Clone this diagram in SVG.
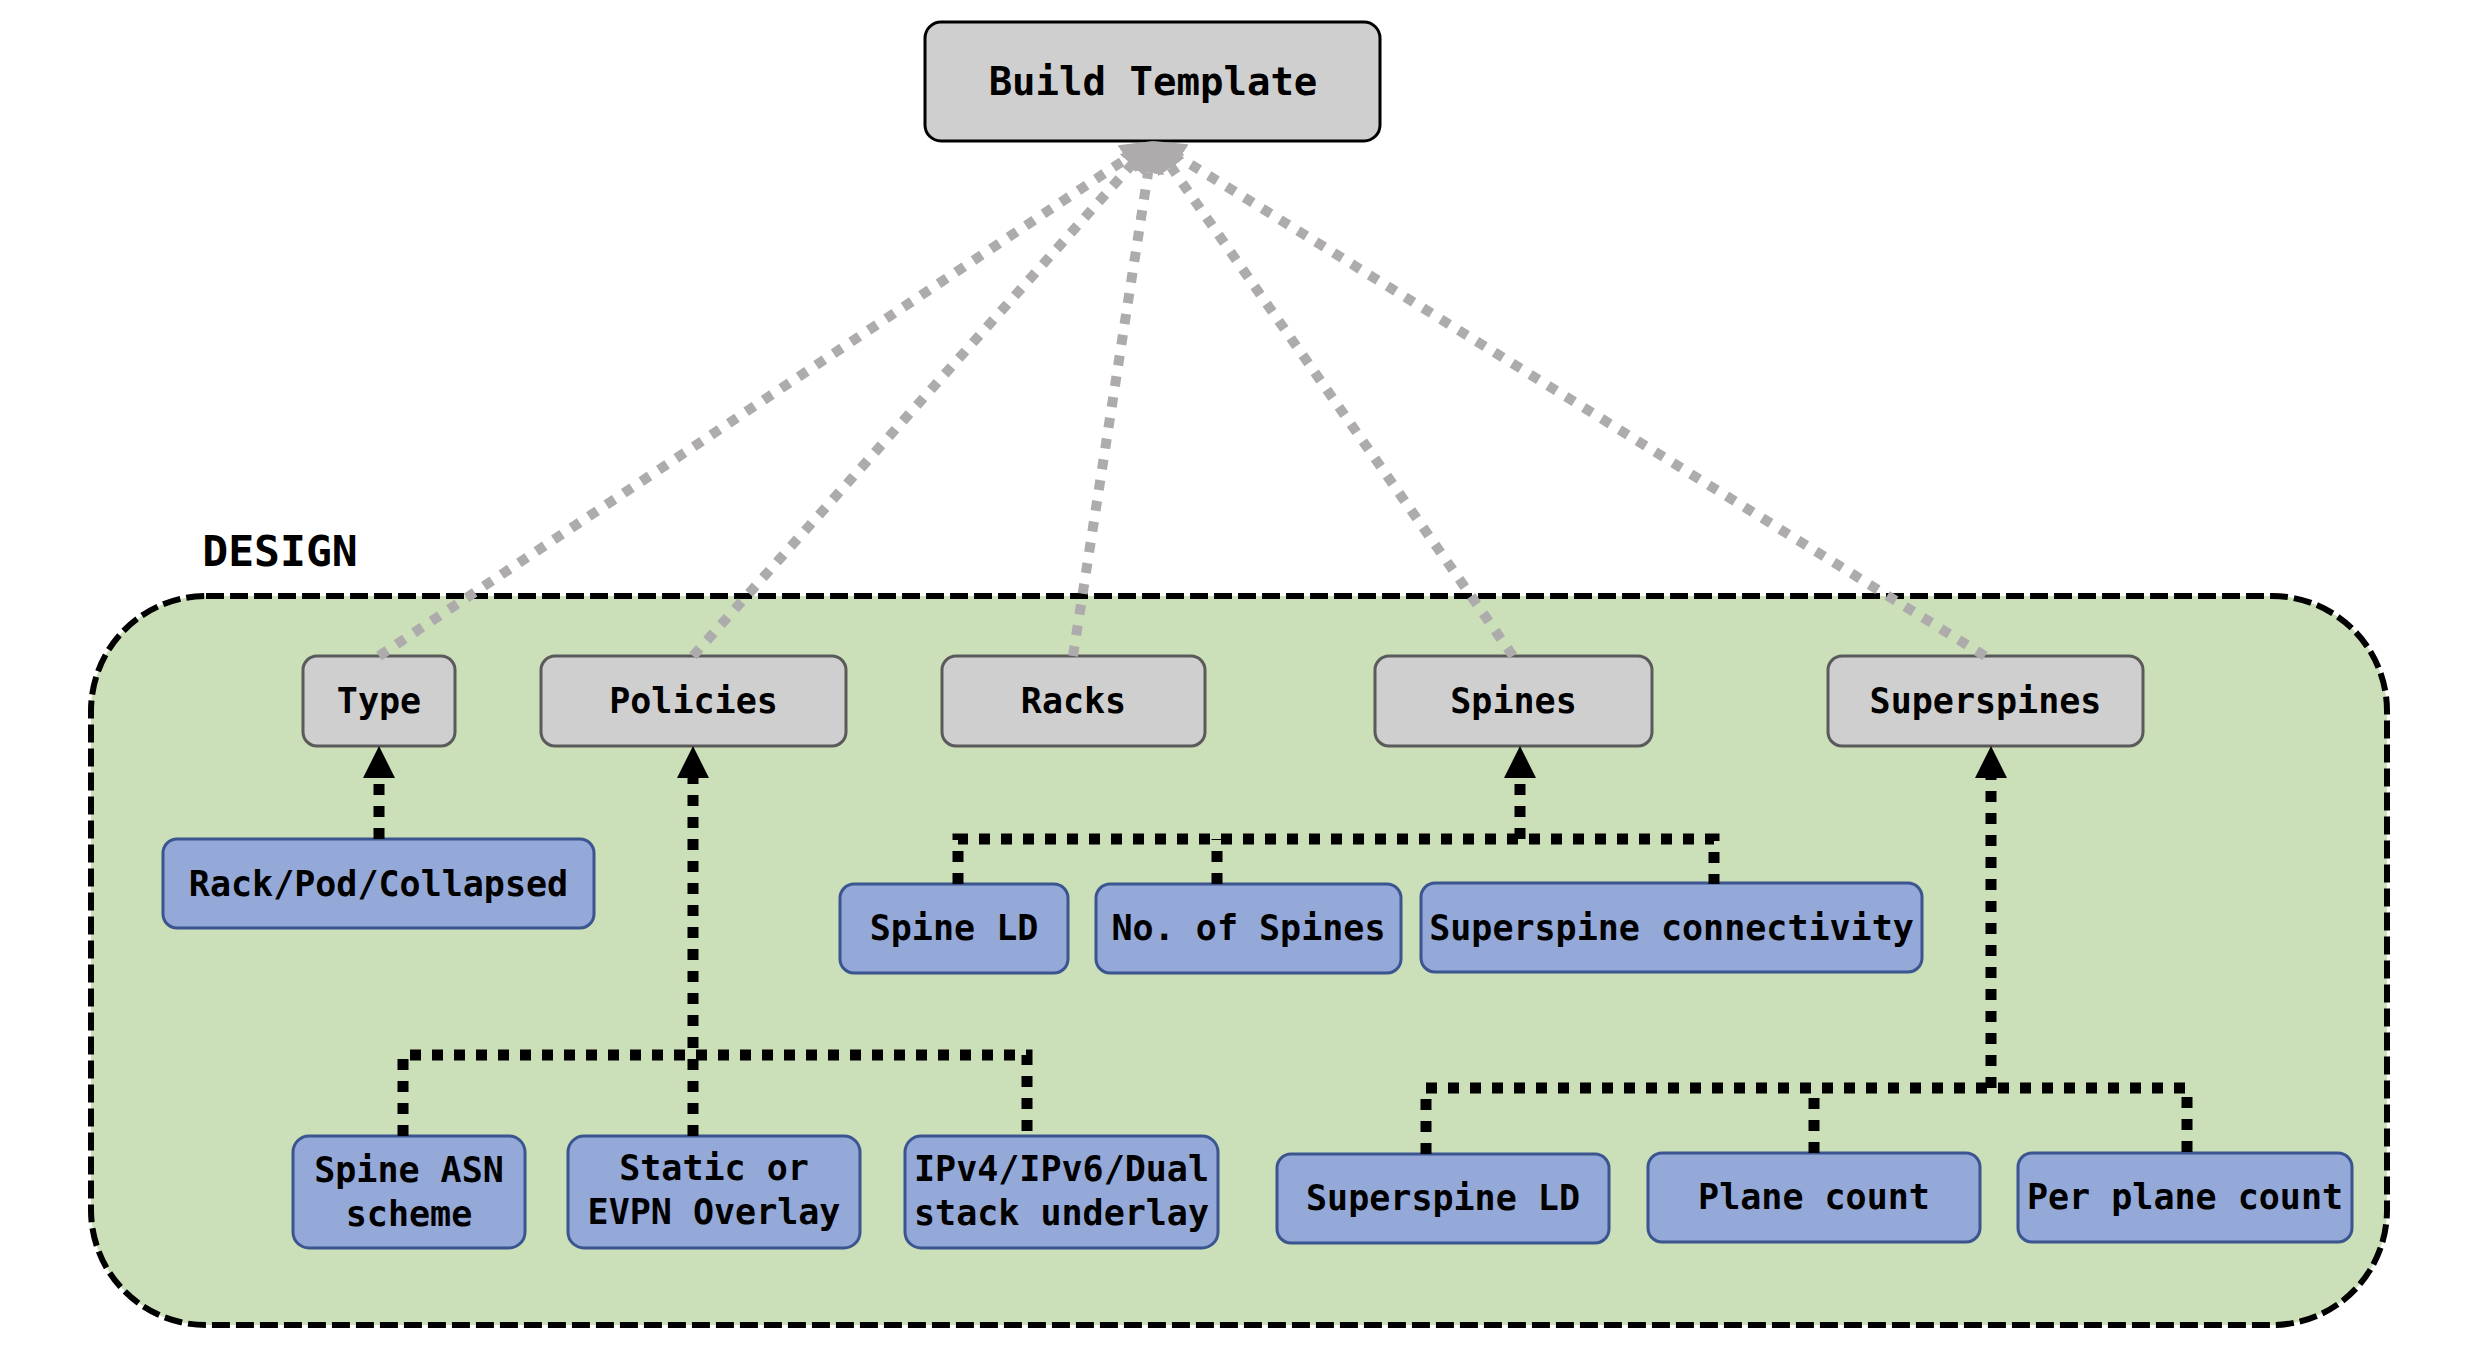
<svg xmlns="http://www.w3.org/2000/svg" width="2466" height="1354" viewBox="0 0 2466 1354">
<defs>
<style>
.t{font-family:"DejaVu Sans Mono","Liberation Mono",monospace;font-weight:bold;fill:#000;text-anchor:middle}
.n{font-size:35px}
.g rect{fill:#d0cfd0;stroke:#5a5a5a;stroke-width:3}
.b rect{fill:#94a9d7;stroke:#3a5590;stroke-width:3}
.gl{fill:none;stroke:#aeabad;stroke-width:10;stroke-dasharray:10 11}
.bl{fill:none;stroke:#000;stroke-width:11;stroke-dasharray:11 11}
</style>
<marker id="ag" viewBox="0 0 32 32" refX="0" refY="16" markerWidth="32" markerHeight="32" markerUnits="userSpaceOnUse" orient="auto">
<path d="M0,0 L32,16 L0,32 z" fill="#aeabad"/>
</marker>
<marker id="ab" viewBox="0 0 32 32" refX="0" refY="16" markerWidth="32" markerHeight="32" markerUnits="userSpaceOnUse" orient="auto">
<path d="M0,0 L32,16 L0,32 z" fill="#000"/>
</marker>
</defs>
<rect width="2466" height="1354" fill="#fff"/>
<g id="design">
<rect x="91" y="596" width="2296" height="729" rx="115" ry="115" fill="#cbdfb8" stroke="#000" stroke-width="6" stroke-dasharray="18 6"/>
<text class="t" x="280" y="566" font-size="43">DESIGN</text>
</g>
<g id="build-template">
<rect x="925" y="22" width="455" height="119" rx="16" fill="#d0cfd0" stroke="#000" stroke-width="3"/>
<text class="t" x="1153" y="95" font-size="39">Build Template</text>
</g>
<g id="type" class="g"><rect x="303" y="656" width="152" height="90" rx="14"/><text class="t n" x="379" y="713">Type</text></g>
<g id="policies" class="g"><rect x="541" y="656" width="305" height="90" rx="14"/><text class="t n" x="693.5" y="713">Policies</text></g>
<g id="racks" class="g"><rect x="942" y="656" width="263" height="90" rx="14"/><text class="t n" x="1073.5" y="713">Racks</text></g>
<g id="spines" class="g"><rect x="1375" y="656" width="277" height="90" rx="14"/><text class="t n" x="1513.5" y="713">Spines</text></g>
<g id="superspines" class="g"><rect x="1828" y="656" width="315" height="90" rx="14"/><text class="t n" x="1985.5" y="713">Superspines</text></g>
<g id="rack-pod-collapsed" class="b"><rect x="163" y="839" width="431" height="89" rx="14"/><text class="t n" x="378.5" y="896">Rack/Pod/Collapsed</text></g>
<g id="spine-ld" class="b"><rect x="840" y="884" width="228" height="89" rx="14"/><text class="t n" x="954" y="940">Spine LD</text></g>
<g id="no-of-spines" class="b"><rect x="1096" y="884" width="305" height="89" rx="14"/><text class="t n" x="1248.5" y="940">No. of Spines</text></g>
<g id="superspine-connectivity" class="b"><rect x="1421" y="883" width="501" height="89" rx="14"/><text class="t n" x="1671.5" y="940">Superspine connectivity</text></g>
<g id="spine-asn-scheme" class="b"><rect x="293" y="1136" width="232" height="112" rx="16"/><text class="t n" x="409" y="1182">Spine ASN</text><text class="t n" x="409" y="1226">scheme</text></g>
<g id="static-evpn-overlay" class="b"><rect x="568" y="1136" width="292" height="112" rx="16"/><text class="t n" x="714" y="1180">Static or</text><text class="t n" x="714" y="1224">EVPN Overlay</text></g>
<g id="ip-underlay" class="b"><rect x="905" y="1136" width="313" height="112" rx="16"/><text class="t n" x="1061.5" y="1181">IPv4/IPv6/Dual</text><text class="t n" x="1061.5" y="1225">stack underlay</text></g>
<g id="superspine-ld" class="b"><rect x="1277" y="1154" width="332" height="89" rx="14"/><text class="t n" x="1443" y="1210">Superspine LD</text></g>
<g id="plane-count" class="b"><rect x="1648" y="1153" width="332" height="89" rx="14"/><text class="t n" x="1814" y="1209">Plane count</text></g>
<g id="per-plane-count" class="b"><rect x="2018" y="1153" width="334" height="89" rx="14"/><text class="t n" x="2185" y="1209">Per plane count</text></g>
<g id="connectors">
<path class="gl" d="M379,656 L1126.4,158.7" marker-end="url(#ag)"/>
<path class="gl" d="M693,656 L1131.7,164.9" marker-end="url(#ag)"/>
<path class="gl" d="M1073,656 L1148.1,172.6" marker-end="url(#ag)"/>
<path class="gl" d="M1513,656 L1171.3,167.2" marker-end="url(#ag)"/>
<path class="gl" d="M1985,656 L1180.2,157.8" marker-end="url(#ag)"/>
<path class="bl" d="M379,839 V778" marker-end="url(#ab)"/>
<path class="bl" d="M693,1136 V778" marker-end="url(#ab)"/>
<path class="bl" d="M403,1136 V1055 H1027 V1136"/>
<path class="bl" d="M1520,839 V778" marker-end="url(#ab)"/>
<path class="bl" d="M958,884 V839 H1714 V884"/>
<path class="bl" d="M1217,884 V839"/>
<path class="bl" d="M1991,1088 V778" marker-end="url(#ab)"/>
<path class="bl" d="M1426,1154 V1088 H2187 V1153"/>
<path class="bl" d="M1814,1153 V1088"/>
</g>
</svg>
